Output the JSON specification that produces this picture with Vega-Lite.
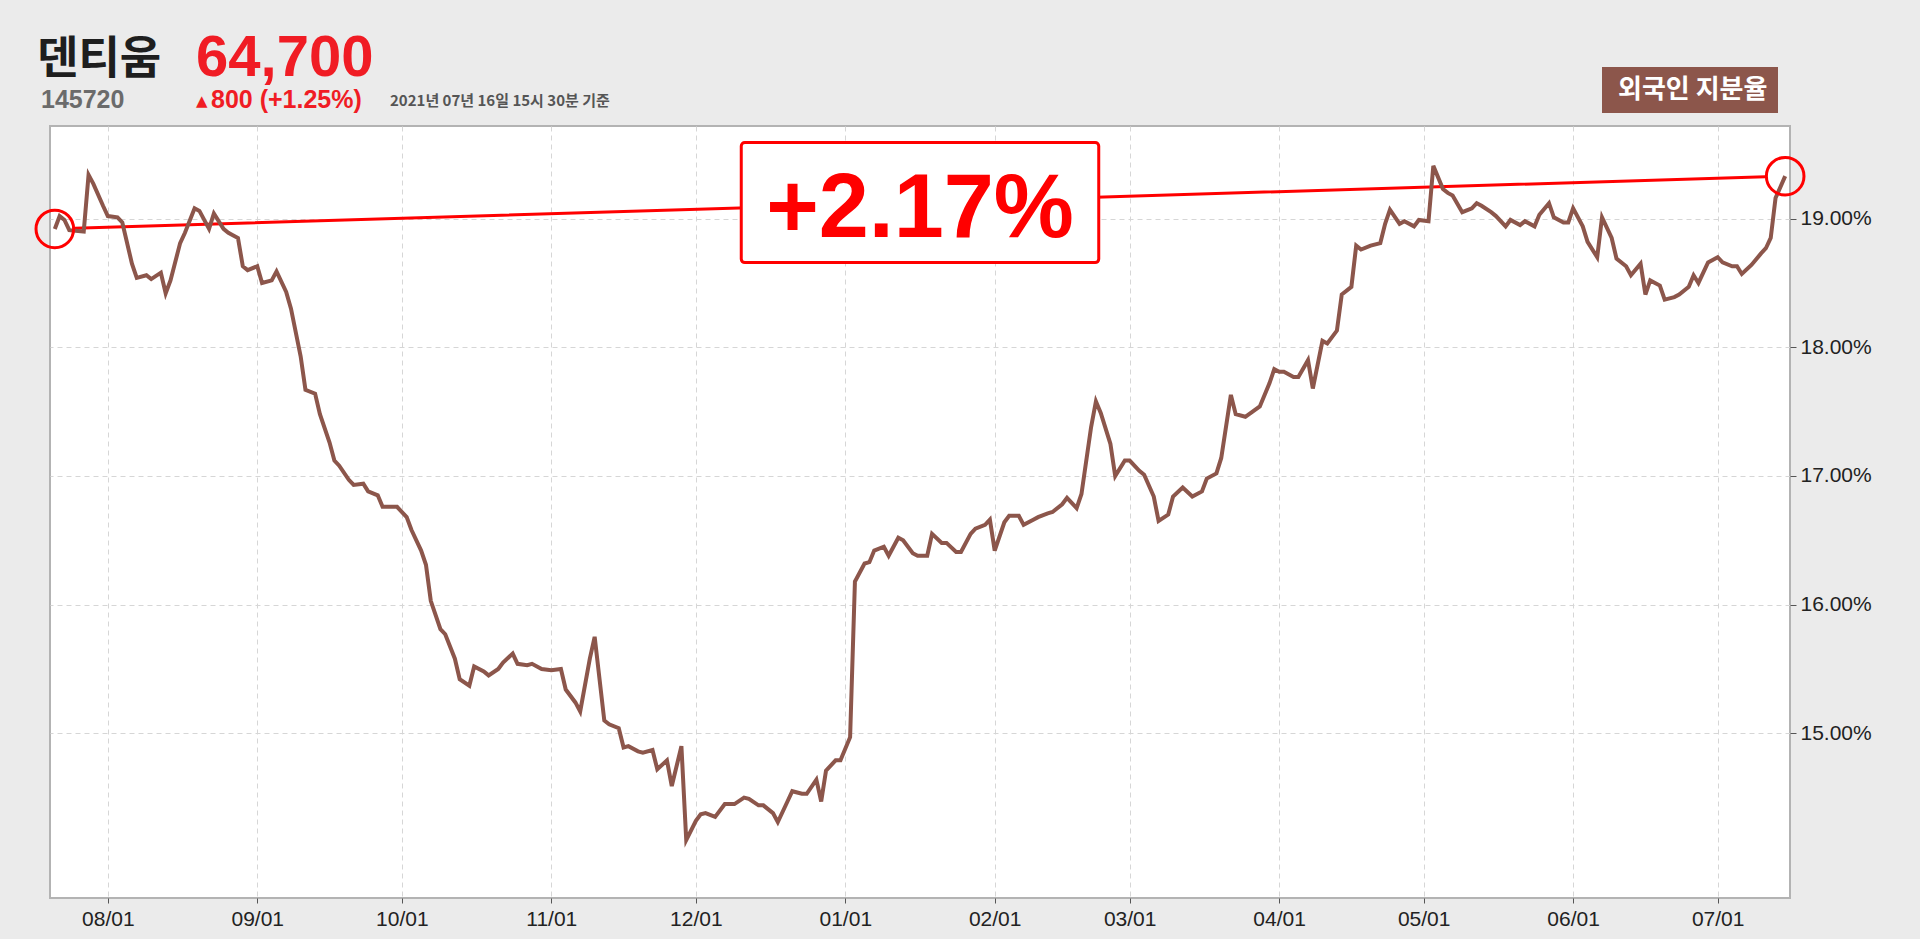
{
  "$schema": "https://vega.github.io/schema/vega-lite/v6.json",
  "width": 1740,
  "height": 772,
  "autosize": "none",
  "padding": {"left": 50, "top": 126, "right": 130, "bottom": 41},
  "background": "#ebebeb",
  "config": {
    "view": {"fill": "white", "stroke": "#b3b3b3", "strokeWidth": 2},
    "axis": {"gridColor": "#d6d6d6", "gridDash": [5, 4], "gridWidth": 1, "domain": false, "tickColor": "#555555", "tickWidth": 1, "labelFont": "Liberation Sans", "labelFontSize": 21, "labelColor": "#222222", "title": null}
  },
  "data": {"values": [
    {"date": "2020-07-21", "v": 18.92}, {"date": "2020-07-22", "v": 19.02}, {"date": "2020-07-23", "v": 18.99}, {"date": "2020-07-24", "v": 18.91},
    {"date": "2020-07-27", "v": 18.90}, {"date": "2020-07-28", "v": 19.34}, {"date": "2020-07-29", "v": 19.27}, {"date": "2020-07-31", "v": 19.10},
    {"date": "2020-08-01", "v": 19.02}, {"date": "2020-08-03", "v": 19.01}, {"date": "2020-08-04", "v": 18.97}, {"date": "2020-08-06", "v": 18.65},
    {"date": "2020-08-07", "v": 18.54}, {"date": "2020-08-09", "v": 18.56}, {"date": "2020-08-10", "v": 18.53}, {"date": "2020-08-12", "v": 18.58},
    {"date": "2020-08-13", "v": 18.42}, {"date": "2020-08-14", "v": 18.52}, {"date": "2020-08-16", "v": 18.81}, {"date": "2020-08-17", "v": 18.89},
    {"date": "2020-08-19", "v": 19.08}, {"date": "2020-08-20", "v": 19.06}, {"date": "2020-08-22", "v": 18.92}, {"date": "2020-08-23", "v": 19.04},
    {"date": "2020-08-25", "v": 18.92}, {"date": "2020-08-26", "v": 18.89}, {"date": "2020-08-28", "v": 18.85}, {"date": "2020-08-29", "v": 18.63},
    {"date": "2020-08-30", "v": 18.60}, {"date": "2020-09-01", "v": 18.63}, {"date": "2020-09-02", "v": 18.50}, {"date": "2020-09-04", "v": 18.52},
    {"date": "2020-09-05", "v": 18.59}, {"date": "2020-09-07", "v": 18.43}, {"date": "2020-09-08", "v": 18.30}, {"date": "2020-09-10", "v": 17.93},
    {"date": "2020-09-11", "v": 17.67}, {"date": "2020-09-13", "v": 17.64}, {"date": "2020-09-14", "v": 17.48}, {"date": "2020-09-16", "v": 17.26},
    {"date": "2020-09-17", "v": 17.12}, {"date": "2020-09-18", "v": 17.08}, {"date": "2020-09-20", "v": 16.97}, {"date": "2020-09-21", "v": 16.93},
    {"date": "2020-09-23", "v": 16.94}, {"date": "2020-09-24", "v": 16.88}, {"date": "2020-09-26", "v": 16.85}, {"date": "2020-09-27", "v": 16.76},
    {"date": "2020-09-30", "v": 16.76}, {"date": "2020-10-02", "v": 16.68}, {"date": "2020-10-03", "v": 16.58}, {"date": "2020-10-05", "v": 16.42},
    {"date": "2020-10-06", "v": 16.31}, {"date": "2020-10-07", "v": 16.03}, {"date": "2020-10-09", "v": 15.81}, {"date": "2020-10-10", "v": 15.77},
    {"date": "2020-10-12", "v": 15.58}, {"date": "2020-10-13", "v": 15.42}, {"date": "2020-10-15", "v": 15.37}, {"date": "2020-10-16", "v": 15.52},
    {"date": "2020-10-18", "v": 15.48}, {"date": "2020-10-19", "v": 15.45}, {"date": "2020-10-21", "v": 15.50}, {"date": "2020-10-22", "v": 15.55},
    {"date": "2020-10-24", "v": 15.62}, {"date": "2020-10-25", "v": 15.54}, {"date": "2020-10-27", "v": 15.53}, {"date": "2020-10-28", "v": 15.54},
    {"date": "2020-10-30", "v": 15.50}, {"date": "2020-11-01", "v": 15.49}, {"date": "2020-11-03", "v": 15.50}, {"date": "2020-11-04", "v": 15.34},
    {"date": "2020-11-06", "v": 15.24}, {"date": "2020-11-07", "v": 15.17}, {"date": "2020-11-09", "v": 15.58}, {"date": "2020-11-10", "v": 15.75},
    {"date": "2020-11-12", "v": 15.10}, {"date": "2020-11-13", "v": 15.07}, {"date": "2020-11-15", "v": 15.04}, {"date": "2020-11-16", "v": 14.89},
    {"date": "2020-11-17", "v": 14.90}, {"date": "2020-11-19", "v": 14.86}, {"date": "2020-11-20", "v": 14.85}, {"date": "2020-11-22", "v": 14.87},
    {"date": "2020-11-23", "v": 14.72}, {"date": "2020-11-25", "v": 14.79}, {"date": "2020-11-26", "v": 14.59}, {"date": "2020-11-28", "v": 14.90},
    {"date": "2020-11-29", "v": 14.17}, {"date": "2020-12-01", "v": 14.32}, {"date": "2020-12-02", "v": 14.37}, {"date": "2020-12-03", "v": 14.38},
    {"date": "2020-12-05", "v": 14.35}, {"date": "2020-12-07", "v": 14.45}, {"date": "2020-12-09", "v": 14.45}, {"date": "2020-12-11", "v": 14.50},
    {"date": "2020-12-12", "v": 14.49}, {"date": "2020-12-14", "v": 14.44}, {"date": "2020-12-15", "v": 14.44}, {"date": "2020-12-17", "v": 14.38},
    {"date": "2020-12-18", "v": 14.31}, {"date": "2020-12-20", "v": 14.47}, {"date": "2020-12-21", "v": 14.55}, {"date": "2020-12-23", "v": 14.53},
    {"date": "2020-12-24", "v": 14.53}, {"date": "2020-12-26", "v": 14.64}, {"date": "2020-12-27", "v": 14.47}, {"date": "2020-12-28", "v": 14.71},
    {"date": "2020-12-30", "v": 14.79}, {"date": "2020-12-31", "v": 14.79}, {"date": "2021-01-02", "v": 14.97}, {"date": "2021-01-03", "v": 16.18},
    {"date": "2021-01-05", "v": 16.32}, {"date": "2021-01-06", "v": 16.33}, {"date": "2021-01-07", "v": 16.42}, {"date": "2021-01-09", "v": 16.45},
    {"date": "2021-01-10", "v": 16.38}, {"date": "2021-01-12", "v": 16.52}, {"date": "2021-01-13", "v": 16.50}, {"date": "2021-01-15", "v": 16.40},
    {"date": "2021-01-16", "v": 16.38}, {"date": "2021-01-18", "v": 16.38}, {"date": "2021-01-19", "v": 16.55}, {"date": "2021-01-21", "v": 16.48},
    {"date": "2021-01-22", "v": 16.48}, {"date": "2021-01-24", "v": 16.41}, {"date": "2021-01-25", "v": 16.41}, {"date": "2021-01-27", "v": 16.55},
    {"date": "2021-01-28", "v": 16.59}, {"date": "2021-01-30", "v": 16.62}, {"date": "2021-01-31", "v": 16.66}, {"date": "2021-02-01", "v": 16.42},
    {"date": "2021-02-03", "v": 16.64}, {"date": "2021-02-04", "v": 16.69}, {"date": "2021-02-06", "v": 16.69}, {"date": "2021-02-07", "v": 16.62},
    {"date": "2021-02-09", "v": 16.66}, {"date": "2021-02-10", "v": 16.68}, {"date": "2021-02-12", "v": 16.71}, {"date": "2021-02-13", "v": 16.72},
    {"date": "2021-02-15", "v": 16.78}, {"date": "2021-02-16", "v": 16.83}, {"date": "2021-02-18", "v": 16.75}, {"date": "2021-02-19", "v": 16.86},
    {"date": "2021-02-21", "v": 17.38}, {"date": "2021-02-22", "v": 17.58}, {"date": "2021-02-23", "v": 17.49}, {"date": "2021-02-25", "v": 17.25},
    {"date": "2021-02-26", "v": 17.00}, {"date": "2021-02-28", "v": 17.12}, {"date": "2021-03-01", "v": 17.12}, {"date": "2021-03-03", "v": 17.04},
    {"date": "2021-03-04", "v": 17.01}, {"date": "2021-03-06", "v": 16.84}, {"date": "2021-03-07", "v": 16.65}, {"date": "2021-03-09", "v": 16.70},
    {"date": "2021-03-10", "v": 16.84}, {"date": "2021-03-12", "v": 16.91}, {"date": "2021-03-14", "v": 16.84}, {"date": "2021-03-16", "v": 16.88},
    {"date": "2021-03-17", "v": 16.98}, {"date": "2021-03-19", "v": 17.02}, {"date": "2021-03-20", "v": 17.14}, {"date": "2021-03-22", "v": 17.63},
    {"date": "2021-03-23", "v": 17.48}, {"date": "2021-03-25", "v": 17.46}, {"date": "2021-03-28", "v": 17.54}, {"date": "2021-03-30", "v": 17.72},
    {"date": "2021-03-31", "v": 17.83}, {"date": "2021-04-01", "v": 17.81}, {"date": "2021-04-02", "v": 17.81}, {"date": "2021-04-04", "v": 17.77},
    {"date": "2021-04-05", "v": 17.77}, {"date": "2021-04-07", "v": 17.90}, {"date": "2021-04-08", "v": 17.68}, {"date": "2021-04-10", "v": 18.05},
    {"date": "2021-04-11", "v": 18.03}, {"date": "2021-04-13", "v": 18.13}, {"date": "2021-04-14", "v": 18.41}, {"date": "2021-04-16", "v": 18.47},
    {"date": "2021-04-17", "v": 18.79}, {"date": "2021-04-18", "v": 18.76}, {"date": "2021-04-20", "v": 18.79}, {"date": "2021-04-22", "v": 18.81},
    {"date": "2021-04-23", "v": 18.96}, {"date": "2021-04-24", "v": 19.07}, {"date": "2021-04-26", "v": 18.96}, {"date": "2021-04-27", "v": 18.98},
    {"date": "2021-04-29", "v": 18.94}, {"date": "2021-04-30", "v": 18.99}, {"date": "2021-05-02", "v": 18.98}, {"date": "2021-05-03", "v": 19.41},
    {"date": "2021-05-05", "v": 19.23}, {"date": "2021-05-06", "v": 19.20}, {"date": "2021-05-07", "v": 19.18}, {"date": "2021-05-09", "v": 19.05},
    {"date": "2021-05-11", "v": 19.08}, {"date": "2021-05-12", "v": 19.12}, {"date": "2021-05-13", "v": 19.10}, {"date": "2021-05-15", "v": 19.05},
    {"date": "2021-05-16", "v": 19.02}, {"date": "2021-05-18", "v": 18.94}, {"date": "2021-05-19", "v": 18.99}, {"date": "2021-05-21", "v": 18.95},
    {"date": "2021-05-22", "v": 18.98}, {"date": "2021-05-24", "v": 18.94}, {"date": "2021-05-25", "v": 19.03}, {"date": "2021-05-27", "v": 19.12},
    {"date": "2021-05-28", "v": 19.01}, {"date": "2021-05-30", "v": 18.97}, {"date": "2021-05-31", "v": 18.97}, {"date": "2021-06-01", "v": 19.08},
    {"date": "2021-06-03", "v": 18.94}, {"date": "2021-06-04", "v": 18.82}, {"date": "2021-06-06", "v": 18.70}, {"date": "2021-06-07", "v": 19.01},
    {"date": "2021-06-09", "v": 18.85}, {"date": "2021-06-10", "v": 18.69}, {"date": "2021-06-12", "v": 18.63}, {"date": "2021-06-13", "v": 18.56},
    {"date": "2021-06-15", "v": 18.65}, {"date": "2021-06-16", "v": 18.41}, {"date": "2021-06-17", "v": 18.52}, {"date": "2021-06-19", "v": 18.48},
    {"date": "2021-06-20", "v": 18.37}, {"date": "2021-06-22", "v": 18.39}, {"date": "2021-06-23", "v": 18.41}, {"date": "2021-06-25", "v": 18.47},
    {"date": "2021-06-26", "v": 18.56}, {"date": "2021-06-27", "v": 18.50}, {"date": "2021-06-29", "v": 18.66}, {"date": "2021-07-01", "v": 18.70},
    {"date": "2021-07-02", "v": 18.66}, {"date": "2021-07-04", "v": 18.63}, {"date": "2021-07-05", "v": 18.63}, {"date": "2021-07-06", "v": 18.57},
    {"date": "2021-07-08", "v": 18.64}, {"date": "2021-07-10", "v": 18.73}, {"date": "2021-07-11", "v": 18.77}, {"date": "2021-07-12", "v": 18.85},
    {"date": "2021-07-13", "v": 19.16}, {"date": "2021-07-15", "v": 19.33}
  ]},
  "encoding": {
    "x": {
      "field": "date", "type": "temporal",
      "scale": {"type": "utc", "domain": [{"year": 2020, "month": 7, "date": 20, "utc": true}, {"year": 2021, "month": 7, "date": 16, "utc": true}]},
      "axis": {
        "orient": "bottom", "labelExpr": "utcFormat(datum.value, '%m/%d')", "tickSize": 5, "labelPadding": 5,
        "values": [
          {"year": 2020, "month": 8, "date": 1, "utc": true}, {"year": 2020, "month": 9, "date": 1, "utc": true},
          {"year": 2020, "month": 10, "date": 1, "utc": true}, {"year": 2020, "month": 11, "date": 1, "utc": true},
          {"year": 2020, "month": 12, "date": 1, "utc": true}, {"year": 2021, "month": 1, "date": 1, "utc": true},
          {"year": 2021, "month": 2, "date": 1, "utc": true}, {"year": 2021, "month": 3, "date": 1, "utc": true},
          {"year": 2021, "month": 4, "date": 1, "utc": true}, {"year": 2021, "month": 5, "date": 1, "utc": true},
          {"year": 2021, "month": 6, "date": 1, "utc": true}, {"year": 2021, "month": 7, "date": 1, "utc": true}
        ]
      }
    },
    "y": {
      "field": "v", "type": "quantitative",
      "scale": {"domain": [13.72, 19.72], "zero": false, "nice": false},
      "axis": {"orient": "right", "values": [15, 16, 17, 18, 19], "labelExpr": "format(datum.value, '.2f') + '%'", "tickSize": 6, "labelPadding": 4}
    }
  },
  "layer": [
    {
      "transform": [
        {"window": [{"op": "row_number", "as": "rn"}]},
        {"joinaggregate": [{"op": "count", "as": "n"}]},
        {"filter": "datum.rn == 1 || datum.rn == datum.n"}
      ],
      "mark": {"type": "line", "color": "#ff0000", "strokeWidth": 3, "strokeDash": [0, 19.5, 1692, 80], "strokeCap": "butt"}
    },
    {
      "mark": {"type": "line", "strokeWidth": 4},
      "encoding": {
        "color": {
          "datum": "외국인 지분율",
          "scale": {"range": ["#8c564b"]},
          "legend": {
            "orient": "none", "legendX": 1552, "legendY": -59, "title": null,
            "fillColor": "#8c564b", "padding": 10, "cornerRadius": 0,
            "labelColor": "#ffffff", "labelFont": "Noto Sans CJK KR", "labelFontSize": 26, "labelFontWeight": "bold",
            "symbolType": "circle", "symbolSize": 0, "symbolOpacity": 0, "symbolStrokeWidth": 0, "labelOffset": -20
          }
        }
      }
    },
    {
      "transform": [
        {"window": [{"op": "row_number", "as": "rn"}]},
        {"joinaggregate": [{"op": "count", "as": "n"}]},
        {"filter": "datum.rn == 1 || datum.rn == datum.n"}
      ],
      "mark": {"type": "point", "shape": "circle", "size": 1414, "filled": false, "stroke": "#ff0000", "strokeWidth": 3, "opacity": 1}
    },
    {
      "transform": [
        {"window": [{"op": "row_number", "as": "rn"}]},
        {"joinaggregate": [{"op": "count", "as": "n"}]},
        {"filter": "datum.rn == 1 || datum.rn == datum.n"},
        {"aggregate": [{"op": "mean", "field": "date", "as": "date"}, {"op": "mean", "field": "v", "as": "v"}]}
      ],
      "mark": {
        "type": "point",
        "shape": "M-0.98,-0.336 L0.98,-0.336 A0.02,0.02 0 0 1 1,-0.316 L1,0.316 A0.02,0.02 0 0 1 0.98,0.336 L-0.98,0.336 A0.02,0.02 0 0 1 -1,0.316 L-1,-0.316 A0.02,0.02 0 0 1 -0.98,-0.336 Z",
        "size": 127800, "filled": true, "fill": "#ffffff", "stroke": "#ff0000", "strokeWidth": 3, "opacity": 1
      }
    },
    {
      "transform": [
        {"window": [{"op": "row_number", "as": "rn"}]},
        {"joinaggregate": [{"op": "count", "as": "n"}]},
        {"filter": "datum.rn == 1 || datum.rn == datum.n"},
        {"aggregate": [{"op": "mean", "field": "date", "as": "date"}, {"op": "mean", "field": "v", "as": "v"}]}
      ],
      "mark": {"type": "text", "text": "+2.17%", "font": "Liberation Sans", "fontWeight": "bold", "fontSize": 90, "color": "#ff0000", "align": "center", "baseline": "alphabetic", "dy": 34}
    },
    {
      "data": {"values": [{}]},
      "mark": {"type": "text", "text": "덴티움", "font": "Noto Sans CJK KR", "fontWeight": "bold", "fontSize": 45, "color": "#1e1e1e", "align": "left", "baseline": "alphabetic"},
      "encoding": {"x": {"value": -13}, "y": {"value": -52}}
    },
    {
      "data": {"values": [{}]},
      "mark": {"type": "text", "text": "64,700", "font": "Liberation Sans", "fontWeight": "bold", "fontSize": 58, "color": "#f01c24", "align": "left", "baseline": "alphabetic"},
      "encoding": {"x": {"value": 146}, "y": {"value": -50}}
    },
    {
      "data": {"values": [{}]},
      "mark": {"type": "text", "text": "145720", "font": "Liberation Sans", "fontWeight": "bold", "fontSize": 25, "color": "#6b6b6b", "align": "left", "baseline": "alphabetic"},
      "encoding": {"x": {"value": -9}, "y": {"value": -18}}
    },
    {
      "data": {"values": [{}]},
      "mark": {"type": "text", "text": "▲", "font": "DejaVu Sans", "fontSize": 15, "color": "#f01c24", "align": "left", "baseline": "alphabetic"},
      "encoding": {"x": {"value": 146}, "y": {"value": -20}}
    },
    {
      "data": {"values": [{}]},
      "mark": {"type": "text", "text": "800 (+1.25%)", "font": "Liberation Sans", "fontWeight": "bold", "fontSize": 25, "color": "#f01c24", "align": "left", "baseline": "alphabetic"},
      "encoding": {"x": {"value": 161}, "y": {"value": -18}}
    },
    {
      "data": {"values": [{}]},
      "mark": {"type": "text", "text": "2021년 07년 16일 15시 30분 기준", "font": "Noto Sans CJK KR", "fontWeight": "bold", "fontSize": 15, "color": "#555555", "align": "left", "baseline": "alphabetic"},
      "encoding": {"x": {"value": 340}, "y": {"value": -20}}
    }
  ]
}
